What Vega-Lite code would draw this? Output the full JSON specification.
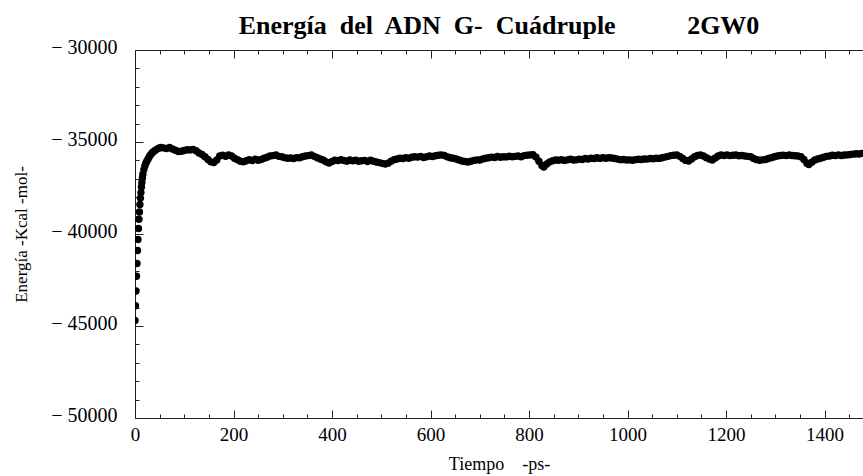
{
  "$schema": "https://vega.github.io/schema/vega-lite/v6.json",
  "width": 728,
  "height": 368,
  "autosize": "none",
  "padding": {"left": 135, "top": 50, "right": 0, "bottom": 58},
  "config": {"view": {"stroke": null}, "font": "Liberation Serif", "axis": {"grid": false}},
  "title": {"text": "Energía\u00a0 del\u00a0 ADN\u00a0 G-\u00a0 Cuádruple\u00a0\u00a0\u00a0\u00a0\u00a0\u00a0\u00a0\u00a0\u00a0\u00a0 2GW0", "font": "Liberation Serif", "fontSize": 26, "fontWeight": "bold", "anchor": "middle", "baseline": "alphabetic", "offset": -23, "color": "#000"},
  "data": {"values": [
    {"t":0,"e":-44700},{"t":1,"e":-43900},{"t":2,"e":-43100},{"t":3,"e":-42300},{"t":4,"e":-41600},{"t":5,"e":-40900},{"t":6,"e":-40300},{"t":7,"e":-39700},{"t":8,"e":-39200},{"t":9,"e":-38800},{"t":10,"e":-38400},{"t":11,"e":-38050},{"t":12,"e":-37750},{"t":13,"e":-37450},{"t":14,"e":-37200},{"t":15,"e":-36950},{"t":16,"e":-36750},{"t":18,"e":-36500},{"t":20,"e":-36300},{"t":22,"e":-36150},{"t":24,"e":-36050},{"t":26,"e":-35950},{"t":28,"e":-35850},{"t":30,"e":-35750},{"t":33,"e":-35650},{"t":36,"e":-35560},{"t":40,"e":-35480},{"t":44,"e":-35400},{"t":48,"e":-35340},{"t":52,"e":-35300},
    {"t":58,"e":-35320},{"t":64,"e":-35360},{"t":70,"e":-35300},{"t":76,"e":-35380},{"t":82,"e":-35450},{"t":88,"e":-35520},{"t":94,"e":-35500},{"t":100,"e":-35460},{"t":106,"e":-35420},{"t":112,"e":-35430},{"t":118,"e":-35400},{"t":124,"e":-35480},{"t":130,"e":-35600},{"t":136,"e":-35680},{"t":142,"e":-35800},{"t":148,"e":-35950},{"t":154,"e":-36080},{"t":160,"e":-36120},{"t":166,"e":-35980},{"t":172,"e":-35760},{"t":178,"e":-35720},{"t":184,"e":-35780},{"t":190,"e":-35700},{"t":196,"e":-35760},{"t":202,"e":-35880},{"t":208,"e":-35960},{"t":214,"e":-36050},{"t":220,"e":-36080},{"t":226,"e":-36020},{"t":232,"e":-35960},{"t":238,"e":-36010},{"t":244,"e":-35940},{"t":250,"e":-35990},{"t":256,"e":-35950},{"t":262,"e":-35880},{"t":268,"e":-35830},{"t":274,"e":-35760},{"t":280,"e":-35740},{"t":286,"e":-35710},{"t":292,"e":-35780},{"t":298,"e":-35800},{"t":304,"e":-35850},{"t":310,"e":-35880},{"t":316,"e":-35870},{"t":322,"e":-35900},{"t":328,"e":-35850},{"t":334,"e":-35860},{"t":340,"e":-35800},{"t":346,"e":-35760},{"t":352,"e":-35740},{"t":358,"e":-35710},{"t":364,"e":-35780},{"t":370,"e":-35860},{"t":376,"e":-35920},{"t":382,"e":-35980},{"t":388,"e":-36080},{"t":394,"e":-36140},{"t":400,"e":-36060},{"t":406,"e":-35990},{"t":412,"e":-36010},{"t":418,"e":-35960},{"t":424,"e":-36000},{"t":430,"e":-36040},{"t":436,"e":-35980},{"t":442,"e":-36020},{"t":448,"e":-35990},{"t":454,"e":-36050},{"t":460,"e":-36020},{"t":466,"e":-36000},{"t":472,"e":-36060},{"t":478,"e":-35990},{"t":484,"e":-36040},{"t":490,"e":-36090},{"t":496,"e":-36120},{"t":502,"e":-36160},{"t":508,"e":-36200},{"t":514,"e":-36150},{"t":520,"e":-36040},{"t":526,"e":-35960},{"t":532,"e":-35920},{"t":538,"e":-35880},{"t":544,"e":-35900},{"t":550,"e":-35850},{"t":556,"e":-35880},{"t":562,"e":-35830},{"t":568,"e":-35800},{"t":574,"e":-35820},{"t":580,"e":-35780},{"t":586,"e":-35840},{"t":592,"e":-35800},{"t":598,"e":-35760},{"t":604,"e":-35790},{"t":610,"e":-35750},{"t":616,"e":-35720},{"t":622,"e":-35700},{"t":628,"e":-35730},{"t":634,"e":-35800},{"t":640,"e":-35860},{"t":646,"e":-35880},{"t":652,"e":-35920},{"t":658,"e":-35980},{"t":664,"e":-36030},{"t":670,"e":-36060},{"t":676,"e":-36090},{"t":682,"e":-36050},{"t":688,"e":-36000},{"t":694,"e":-35970},{"t":700,"e":-35980},{"t":706,"e":-35920},{"t":712,"e":-35880},{"t":718,"e":-35860},{"t":724,"e":-35820},{"t":730,"e":-35840},{"t":736,"e":-35790},{"t":742,"e":-35830},{"t":748,"e":-35800},{"t":754,"e":-35810},{"t":760,"e":-35770},{"t":766,"e":-35800},{"t":772,"e":-35780},{"t":778,"e":-35760},{"t":784,"e":-35800},{"t":790,"e":-35740},{"t":796,"e":-35720},{"t":802,"e":-35700},{"t":808,"e":-35690},{"t":814,"e":-35820},{"t":820,"e":-36050},{"t":826,"e":-36280},{"t":830,"e":-36360},{"t":836,"e":-36200},{"t":842,"e":-36080},{"t":848,"e":-36020},{"t":854,"e":-35980},{"t":860,"e":-35990},{"t":866,"e":-35960},{"t":872,"e":-36000},{"t":878,"e":-35970},{"t":884,"e":-35940},{"t":890,"e":-35980},{"t":896,"e":-35970},{"t":902,"e":-35930},{"t":908,"e":-35950},{"t":914,"e":-35900},{"t":920,"e":-35920},{"t":926,"e":-35880},{"t":932,"e":-35900},{"t":938,"e":-35860},{"t":944,"e":-35890},{"t":950,"e":-35850},{"t":956,"e":-35880},{"t":962,"e":-35860},{"t":968,"e":-35870},{"t":974,"e":-35900},{"t":980,"e":-35930},{"t":986,"e":-35960},{"t":992,"e":-35950},{"t":998,"e":-35980},{"t":1004,"e":-35970},{"t":1010,"e":-35990},{"t":1016,"e":-35960},{"t":1022,"e":-35940},{"t":1028,"e":-35950},{"t":1034,"e":-35920},{"t":1040,"e":-35930},{"t":1046,"e":-35900},{"t":1052,"e":-35910},{"t":1058,"e":-35880},{"t":1064,"e":-35890},{"t":1070,"e":-35860},{"t":1076,"e":-35820},{"t":1082,"e":-35780},{"t":1088,"e":-35740},{"t":1094,"e":-35720},{"t":1100,"e":-35700},{"t":1106,"e":-35780},{"t":1112,"e":-35900},{"t":1118,"e":-36000},{"t":1124,"e":-36030},{"t":1130,"e":-35920},{"t":1136,"e":-35800},{"t":1142,"e":-35730},{"t":1148,"e":-35710},{"t":1154,"e":-35760},{"t":1160,"e":-35850},{"t":1166,"e":-35930},{"t":1172,"e":-35980},{"t":1178,"e":-35870},{"t":1184,"e":-35760},{"t":1190,"e":-35710},{"t":1196,"e":-35730},{"t":1202,"e":-35700},{"t":1208,"e":-35740},{"t":1214,"e":-35720},{"t":1220,"e":-35710},{"t":1226,"e":-35750},{"t":1232,"e":-35730},{"t":1238,"e":-35760},{"t":1244,"e":-35780},{"t":1250,"e":-35800},{"t":1256,"e":-35900},{"t":1262,"e":-35960},{"t":1268,"e":-35990},{"t":1274,"e":-35970},{"t":1280,"e":-35950},{"t":1286,"e":-35900},{"t":1292,"e":-35850},{"t":1298,"e":-35800},{"t":1304,"e":-35760},{"t":1310,"e":-35730},{"t":1316,"e":-35720},{"t":1322,"e":-35740},{"t":1328,"e":-35710},{"t":1334,"e":-35730},{"t":1340,"e":-35750},{"t":1346,"e":-35760},{"t":1352,"e":-35800},{"t":1358,"e":-35950},{"t":1364,"e":-36150},{"t":1368,"e":-36220},{"t":1374,"e":-36100},{"t":1380,"e":-35980},{"t":1386,"e":-35920},{"t":1392,"e":-35880},{"t":1398,"e":-35830},{"t":1404,"e":-35780},{"t":1410,"e":-35760},{"t":1416,"e":-35720},{"t":1422,"e":-35740},{"t":1428,"e":-35700},{"t":1434,"e":-35730},{"t":1440,"e":-35710},{"t":1446,"e":-35700},{"t":1452,"e":-35680},{"t":1458,"e":-35660},{"t":1464,"e":-35640},{"t":1470,"e":-35650},{"t":1476,"e":-35620}
  ]},
  "resolve": {"axis": {"x": "independent", "y": "independent"}},
  "layer": [
    {
      "mark": {"type": "point", "filled": true, "color": "#000", "size": 55, "opacity": 1, "clip": true},
      "encoding": {
        "x": {"field": "t", "type": "quantitative", "scale": {"domain": [0, 1478], "nice": false, "zero": false},
          "axis": {"orient": "bottom", "values": [0, 200, 400, 600, 800, 1000, 1200, 1400], "format": "d", "tickSize": -8, "labelPadding": 15, "labelFontSize": 19, "labelFont": "Liberation Serif", "labelColor": "#000", "labelFlush": false, "domainColor": "#222", "tickColor": "#222", "title": "Tiempo\u00a0\u00a0\u00a0\u00a0-ps-", "titleFont": "Liberation Serif", "titleFontSize": 18, "titleFontWeight": "normal", "titleColor": "#000", "titlePadding": 11}},
        "y": {"field": "e", "type": "quantitative", "scale": {"domain": [-50000, -30000], "nice": false, "zero": false},
          "axis": {"orient": "left", "values": [-50000, -45000, -40000, -35000, -30000], "tickSize": -8, "labelPadding": 26, "labelFontSize": 20, "labelFont": "Liberation Serif", "labelColor": "#000", "labelOffset": -3, "labelFlush": false, "labelExpr": "'\u2212 ' + format(abs(datum.value), 'd')", "domainColor": "#222", "tickColor": "#222", "title": "Energía -Kcal -mol-", "titleFont": "Liberation Serif", "titleFontSize": 17, "titleFontWeight": "normal", "titleColor": "#000", "titlePadding": 20}}
      }
    },
    {
      "mark": {"type": "point", "opacity": 0},
      "encoding": {
        "x": {"field": "t", "type": "quantitative", "axis": {"orient": "bottom", "values": [50, 100, 150, 250, 300, 350, 450, 500, 550, 650, 700, 750, 850, 900, 950, 1050, 1100, 1150, 1250, 1300, 1350, 1450], "tickSize": -4, "labels": false, "domain": false, "title": null, "tickColor": "#222"}},
        "y": {"field": "e", "type": "quantitative", "axis": {"orient": "left", "values": [-49000, -48000, -47000, -46000, -44000, -43000, -42000, -41000, -39000, -38000, -37000, -36000, -34000, -33000, -32000, -31000], "tickSize": -4, "labels": false, "domain": false, "title": null, "tickColor": "#222"}}
      }
    },
    {
      "mark": {"type": "point", "opacity": 0},
      "encoding": {
        "x": {"field": "t", "type": "quantitative", "axis": {"orient": "top", "values": [0, 200, 400, 600, 800, 1000, 1200, 1400], "tickSize": -8, "labels": false, "title": null, "domainColor": "#222", "tickColor": "#222"}},
        "y": {"field": "e", "type": "quantitative", "axis": null}
      }
    },
    {
      "mark": {"type": "point", "opacity": 0},
      "encoding": {
        "x": {"field": "t", "type": "quantitative", "axis": {"orient": "top", "values": [50, 100, 150, 250, 300, 350, 450, 500, 550, 650, 700, 750, 850, 900, 950, 1050, 1100, 1150, 1250, 1300, 1350, 1450], "tickSize": -4, "labels": false, "domain": false, "title": null, "tickColor": "#222"}},
        "y": {"field": "e", "type": "quantitative", "axis": null}
      }
    }
  ]
}
